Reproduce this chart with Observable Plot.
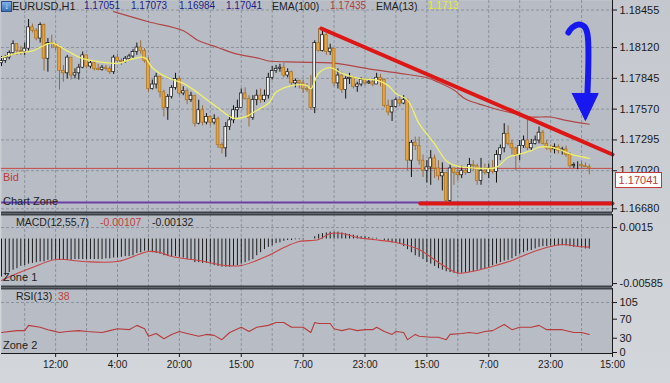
<!DOCTYPE html>
<html><head><meta charset="utf-8">
<script src="https://cdn.jsdelivr.net/npm/d3@7"></script>
<script src="https://cdn.jsdelivr.net/npm/@observablehq/plot@0.6"></script>
<style>
body{margin:0;background:#c9cdd2;}
#wrap{position:relative;width:670px;height:383px;overflow:hidden;background:linear-gradient(#c4c8ce,#d3d6da);font-family:"Liberation Sans",Arial,sans-serif;}
#wrap svg{position:absolute;left:0;}
.t{position:absolute;white-space:nowrap;font-size:10.5px;line-height:12px;color:#1e1e1e;}
</style></head><body><div id="wrap"></div><script>
// ---------- data ----------
const firstOpen = 1.1798;
const closes = [
1.1800,1.1803,1.1807,1.1815,1.1809,1.1808,1.1811,1.1830,1.1827,1.1820,
1.1832,1.1802,1.1816,1.1815,1.1812,1.1791,1.1789,1.1803,1.1787,1.1789,
1.1794,1.1805,1.1795,1.1798,1.1793,1.1792,1.1794,1.1793,1.1790,1.1803,
1.1800,1.1799,1.1802,1.1804,1.1808,1.1812,1.1809,1.1800,1.1775,1.1779,
1.1786,1.1772,1.1758,1.1768,1.1776,1.1784,1.1771,1.1773,1.1765,1.1769,
1.1744,1.1756,1.1745,1.1750,1.1745,1.1748,1.1725,1.1722,1.1741,1.1747,
1.1756,1.1758,1.1771,1.1766,1.1749,1.1765,1.1769,1.1765,1.1769,1.1785,
1.1791,1.1793,1.1794,1.1787,1.1790,1.1780,1.1782,1.1780,1.1775,1.1774,
1.1758,1.1816,1.1809,1.1823,1.1808,1.1811,1.1780,1.1787,1.1774,1.1784,
1.1785,1.1777,1.1779,1.1783,1.1780,1.1781,1.1779,1.1785,1.1783,1.1760,
1.1754,1.1759,1.1765,1.1762,1.1765,1.1711,1.1727,1.1724,1.1711,1.1702,
1.1705,1.1713,1.1704,1.1697,1.1700,1.1675,1.1704,1.1700,1.1698,1.1702,
1.1700,1.1707,1.1706,1.1693,1.1702,1.1700,1.1704,1.1701,1.1716,1.1722,
1.1735,1.1726,1.1722,1.1716,1.1724,1.1729,1.1722,1.1726,1.1729,1.1736,
1.1726,1.1722,1.1721,1.1723,1.1720,1.1721,1.1716,1.1706,1.1707,1.1707,
1.1706,1.17051,1.17041];
const highs = [
1.1804,1.1805,1.1809,1.1818,1.1815,1.1813,1.1816,1.1837,1.1833,1.1829,
1.1834,1.1833,1.1820,1.1823,1.1816,1.1814,1.1796,1.1805,1.1803,1.1793,
1.1797,1.1808,1.1804,1.1800,1.1799,1.1797,1.1796,1.1796,1.1795,1.1805,
1.1806,1.1802,1.1804,1.1806,1.1810,1.1816,1.1818,1.1811,1.1803,1.1783,
1.1789,1.1783,1.1774,1.1770,1.1778,1.1789,1.1786,1.1777,1.1775,1.1772,
1.1767,1.1765,1.1760,1.1753,1.1751,1.1752,1.1750,1.1727,1.1745,1.1751,
1.1760,1.1765,1.1775,1.1776,1.1769,1.1769,1.1774,1.1775,1.1774,1.1789,
1.1795,1.1796,1.1797,1.1798,1.1793,1.1791,1.1784,1.1783,1.1783,1.1780,
1.1787,1.1818,1.1829,1.1827,1.1825,1.1815,1.1809,1.1793,1.1790,1.1786,
1.1789,1.1786,1.1781,1.1785,1.1784,1.1783,1.1783,1.1789,1.1788,1.1784,
1.1765,1.1765,1.1767,1.1768,1.1769,1.1766,1.1729,1.1732,1.1732,1.1716,
1.1711,1.1720,1.1716,1.1711,1.1709,1.1700,1.1707,1.1704,1.1707,1.1706,
1.1704,1.1713,1.1711,1.1708,1.1713,1.1708,1.1708,1.1711,1.1720,1.1725,
1.1744,1.1742,1.1729,1.1723,1.1729,1.1733,1.1747,1.1730,1.1733,1.1741,
1.1738,1.1729,1.1725,1.1726,1.1725,1.1723,1.1724,1.1718,1.1709,1.1710,
1.1710,1.1709,1.17073];
const lows = [
1.1795,1.1798,1.1801,1.1805,1.1805,1.1805,1.1805,1.1809,1.1825,1.1818,
1.1816,1.1791,1.1790,1.1811,1.1809,1.1774,1.1781,1.1784,1.1783,1.1784,
1.1783,1.1793,1.1793,1.1793,1.1791,1.1791,1.1791,1.1791,1.1788,1.1788,
1.1798,1.1796,1.1798,1.1800,1.1802,1.1805,1.1806,1.1798,1.1772,1.1774,
1.1775,1.1767,1.1750,1.1747,1.1766,1.1774,1.1769,1.1769,1.1761,1.1763,
1.1741,1.1743,1.1742,1.1743,1.1742,1.1743,1.1722,1.1717,1.1714,1.1738,
1.1744,1.1749,1.1758,1.1765,1.1741,1.1747,1.1760,1.1762,1.1763,1.1766,
1.1783,1.1789,1.1790,1.1785,1.1785,1.1778,1.1776,1.1775,1.1771,1.1772,
1.1756,1.1753,1.1808,1.1808,1.1805,1.1805,1.1777,1.1775,1.1771,1.1766,
1.1779,1.1775,1.1772,1.1777,1.1778,1.1779,1.1777,1.1779,1.1777,1.1758,
1.1751,1.1746,1.1758,1.1759,1.1761,1.1702,1.1696,1.1720,1.1707,1.1696,
1.1691,1.1689,1.1695,1.1693,1.1684,1.1673,1.1673,1.1689,1.1693,1.1695,
1.1698,1.1700,1.1702,1.1689,1.1689,1.1698,1.1695,1.1699,1.1691,1.1711,
1.1718,1.1724,1.1716,1.1702,1.1711,1.1722,1.1720,1.1720,1.1725,1.1726,
1.1725,1.1720,1.1718,1.1717,1.1717,1.1716,1.1714,1.1704,1.1704,1.1703,
1.1703,1.1705,1.16984];

const ema13Idx = [0,4,8,13,17,21,26,30,34,37,39,43,47,51,56,60,63,66,69,71,75,79,80,82,85,88,93,97,100,102,105,108,112,115,117,120,125,128,131,133,137,139,142,145,147,152];
const ema13Val = [1.1803,1.1807,1.1809,1.1816,1.1809,1.1802,1.1799,1.1798,1.1802,1.1803,1.1794,1.1785,1.1780,1.1771,1.1758,1.1749,1.1750,1.1756,1.1762,1.1772,1.1778,1.1778,1.1775,1.1789,1.1794,1.1789,1.1784,1.1783,1.1778,1.1771,1.1765,1.1744,1.1726,1.1711,1.1707,1.1705,1.1704,1.1705,1.1714,1.1716,1.1720,1.1723,1.1723,1.1720,1.1717,1.1713];
const ema100Idx = [29,38,47,51,56,60,67,69,77,86,95,103,110,113,117,120,125,129,133,137,142,146,152];
const ema100Val = [1.1844,1.1835,1.1827,1.1818,1.1812,1.1807,1.1802,1.1800,1.1799,1.1798,1.1793,1.1789,1.1785,1.1781,1.1774,1.1766,1.1760,1.1756,1.1753,1.1750,1.1750,1.1747,1.17435];

const macdHist = [
-0.0050,-0.0048,-0.0044,-0.0041,-0.0039,-0.0036,-0.0035,-0.0033,-0.0032,-0.0031,
-0.0030,-0.0030,-0.0028,-0.0028,-0.0028,-0.0028,-0.0028,-0.0028,-0.0028,-0.0027,
-0.0027,-0.0027,-0.0027,-0.0027,-0.0027,-0.0027,-0.0027,-0.0026,-0.0026,-0.0025,
-0.0025,-0.0024,-0.0023,-0.0023,-0.0022,-0.0019,-0.0018,-0.0016,-0.0016,-0.0018,
-0.0019,-0.0020,-0.0022,-0.0023,-0.0023,-0.0023,-0.0024,-0.0025,-0.0027,-0.0028,
-0.0031,-0.0031,-0.0032,-0.0032,-0.0033,-0.0035,-0.0036,-0.0037,-0.0037,-0.0037,
-0.0036,-0.0035,-0.0033,-0.0031,-0.0029,-0.0027,-0.0022,-0.0018,-0.0014,-0.0011,
-0.0009,-0.0006,-0.0005,-0.0003,-0.0002,-0.0002,-0.0001,-0.0001,-0.0001,0.0000,
0.0000,0.0003,0.0006,0.0007,0.0008,0.0009,0.0009,0.0009,0.0008,0.0007,
0.0006,0.0005,0.0004,0.0003,0.0003,0.0002,0.0001,0.0001,0.0000,-0.0002,
-0.0003,-0.0005,-0.0006,-0.0007,-0.0010,-0.0014,-0.0018,-0.0022,-0.0024,-0.0027,
-0.0031,-0.0033,-0.0036,-0.0039,-0.0041,-0.0043,-0.0044,-0.0045,-0.0046,-0.0045,
-0.0044,-0.0044,-0.0043,-0.0041,-0.0040,-0.0039,-0.0037,-0.0035,-0.0033,-0.0031,
-0.0029,-0.0028,-0.0026,-0.0023,-0.0020,-0.0018,-0.0016,-0.0015,-0.0013,-0.0011,
-0.0010,-0.0010,-0.0009,-0.0009,-0.0009,-0.0009,-0.0009,-0.0010,-0.0011,-0.0011,
-0.0012,-0.0013,-0.00132];
const sigIdx = [0,4,8,14,21,30,38,41,44,51,58,62,69,73,77,82,85,88,92,96,102,108,113,118,121,126,132,137,142,145,149,152];
const sigVal = [-0.00545,-0.00453,-0.00374,-0.00269,-0.00295,-0.00295,-0.00164,-0.00177,-0.00230,-0.00282,-0.00348,-0.00348,-0.00217,-0.00112,-0.00033,-0.00007,0.00072,0.00072,0.00020,-0.00007,-0.00046,-0.00138,-0.00308,-0.00446,-0.00433,-0.00374,-0.00282,-0.00177,-0.00098,-0.00072,-0.00098,-0.00107];

const rsiIdx = [0,4,6,7,10,12,13,15,17,20,22,26,28,30,33,35,37,38,40,42,44,46,48,51,53,55,57,59,62,64,66,69,71,73,75,78,80,81,82,85,86,87,88,90,92,94,96,97,99,101,102,104,105,107,108,111,113,115,116,119,121,123,125,127,130,132,134,137,139,141,145,148,150,152];
const rsiVal = [42,46,46,57,53,48,46,42,44,46,44,42,46,50,48,57,50,34,40,29,38,44,40,34,38,36,27,42,53,44,53,57,63,63,53,53,42,63,61,61,50,48,46,50,46,48,48,53,44,38,44,42,27,38,34,32,32,27,38,40,42,40,44,46,59,48,53,53,57,48,48,42,42,38];

const priceTicks = [1.18455,1.18120,1.17845,1.17570,1.17295,1.17020,1.16680];
const macdTicks = [0.0015,-0.00585];
const macdTickLabels = ["0.0015","-0.00585"];
const rsiTicks = [105,70,30,0];
const timeTickIdx = [14,30,46,62,78,94,110,126,142,158];
const timeLabels = ["12:00","4:00","20:00","15:00","7:00","23:00","15:00","7:00","23:00","15:00"];
const gridIdx = [6,14,22,30,38,46,54,62,70,78,86,94,102,110,118,126,134,142,150];

const bidPrice = 1.17041;
const zonePrice = 1.16736;
const resX = [82.7,158], resY = [1.1829,1.17165];
const supX = [108.3,158], supY = [1.16727,1.16727];
const arrowX = [146.6,147.6,149.2,150.7,151.5,151.5];
const arrowY = [1.18254,1.18299,1.18326,1.18308,1.18245,1.17692];
const headX = [147.6,154.3,151.0,147.6];
const headY = [1.17710,1.17710,1.17469,1.17710];

// ---------- drawing ----------
const W = 670, ML = 1, MR = 58;
const BG = "#b8bdc5", GRID = "#8b929c", AX = "#1a1a1a";
const xDom = [0,158];
const pts = (xs, ys) => xs.map((x,k)=>({x, y: ys[k]}));
const candles = closes.map((c,i)=>{const o = i===0 ? firstOpen : closes[i-1];
  return {i, o, c, h: Math.max(highs[i],o,c), l: Math.min(lows[i],o,c), up: c >= o};});
const ups = candles.filter(d=>d.up), downs = candles.filter(d=>!d.up);
const gridOpts = {stroke: GRID, strokeOpacity: 1, strokeDasharray: "3,2"};
const wrap = document.getElementById("wrap");
const st = {background: "transparent", fontSize: "11px", fontFamily: "Liberation Sans, Arial, sans-serif", overflow: "visible"};

const main = Plot.plot({
  width: W, height: 212, marginLeft: ML, marginRight: MR, marginTop: 0, marginBottom: 0,
  x: {domain: xDom, axis: null},
  y: {domain: [1.1854 - 212/11200, 1.1854], axis: null},
  style: st,
  marks: [
    Plot.frame({fill: BG, stroke: null}),
    Plot.gridY(priceTicks, gridOpts),
    Plot.gridX(gridIdx, gridOpts),
    Plot.ruleY([zonePrice], {stroke: "#6b3fa6", strokeWidth: 2}),
    Plot.ruleY([bidPrice], {stroke: "#c44a4a", strokeWidth: 1}),
    Plot.line(pts(ema100Idx, ema100Val), {x: "x", y: "y", stroke: "#b04646", strokeWidth: 1.2, curve: "catmull-rom"}),
    Plot.ruleX(downs, {x: "i", y1: "l", y2: "h", stroke: "#9a6b35", strokeWidth: 1}),
    Plot.ruleX(ups, {x: "i", y1: "l", y2: "h", stroke: "#111", strokeWidth: 1}),
    Plot.rect(downs, {x1: d=>d.i-0.36, x2: d=>d.i+0.36, y1: "o", y2: "c", fill: "#e7a23c", stroke: "#a8711f", strokeWidth: 0.7}),
    Plot.rect(ups, {x1: d=>d.i-0.36, x2: d=>d.i+0.36, y1: "o", y2: "c", fill: "#f7f7f7", stroke: "#111", strokeWidth: 0.7}),
    Plot.line(pts(ema13Idx, ema13Val), {x: "x", y: "y", stroke: "#f1f06a", strokeWidth: 1.3, curve: "catmull-rom"}),
    Plot.line(pts(supX, supY), {x: "x", y: "y", stroke: "#dd1616", strokeWidth: 4}),
    Plot.line(pts(resX, resY), {x: "x", y: "y", stroke: "#dd1616", strokeWidth: 4}),
    Plot.line(pts(arrowX, arrowY), {x: "x", y: "y", stroke: "#1717f0", strokeWidth: 6, curve: "catmull-rom"}),
    Plot.line(pts(headX, headY), {x: "x", y: "y", stroke: "#1717f0", fill: "#1717f0", strokeWidth: 1}),
    Plot.ruleX([xDom[1]], {stroke: AX}),
    Plot.ruleY([1.1854 - 212/11200], {stroke: "#3c4148", strokeWidth: 2}),
    Plot.axisY(priceTicks, {anchor: "right", label: null, tickSize: 4, tickPadding: 3, tickFormat: d3.format(".5f"), fill: AX, stroke: AX})
  ]
});
main.style.top = "0px";

const macd = Plot.plot({
  width: W, height: 72, marginLeft: ML, marginRight: MR, marginTop: 0, marginBottom: 0,
  x: {domain: xDom, axis: null},
  y: {domain: [-0.006234, 0.003216], axis: null},
  style: st,
  marks: [
    Plot.frame({fill: BG, stroke: null}),
    Plot.gridY([0.0015], gridOpts),
    Plot.gridX(gridIdx, gridOpts),
    Plot.ruleX(macdHist.map((v,i)=>({i, v})), {x: "i", y1: 0, y2: "v", stroke: "#1c1c1c", strokeWidth: 1}),
    Plot.line(pts(sigIdx, sigVal), {x: "x", y: "y", stroke: "#c84444", strokeWidth: 1.1, curve: "catmull-rom"}),
    Plot.ruleX([xDom[1]], {stroke: AX}),
    Plot.ruleY([0.003216], {stroke: "#3c4148", strokeWidth: 2}),
    Plot.ruleY([-0.006234], {stroke: "#3c4148", strokeWidth: 2}),
    Plot.axisY(macdTicks, {anchor: "right", label: null, tickSize: 4, tickPadding: 3, tickFormat: (d,i)=>macdTickLabels[i], fill: AX, stroke: AX})
  ]
});
macd.style.top = "214px";

const rsi = Plot.plot({
  width: W, height: 95, marginLeft: ML, marginRight: MR, marginTop: 0, marginBottom: 30,
  x: {domain: xDom, axis: null},
  y: {domain: [-2.1, 134.5], axis: null},
  style: st,
  marks: [
    Plot.frame({fill: BG, stroke: null}),
    Plot.gridY([105], gridOpts),
    Plot.gridX(gridIdx, gridOpts),
    Plot.line(pts(rsiIdx, rsiVal), {x: "x", y: "y", stroke: "#b83a3a", strokeWidth: 1.1}),
    Plot.ruleX([xDom[1]], {stroke: AX}),
    Plot.ruleY([134.5], {stroke: "#3c4148", strokeWidth: 2}),
    Plot.ruleY([-2.1], {stroke: AX, strokeWidth: 1}),
    Plot.axisY(rsiTicks, {anchor: "right", label: null, tickSize: 4, tickPadding: 3, fill: AX, stroke: AX}),
    Plot.axisX(timeTickIdx, {anchor: "bottom", label: null, tickSize: 4, tickPadding: 3, fontSize: 10, tickFormat: (d,i)=>timeLabels[i], fill: AX, stroke: AX})
  ]
});
rsi.style.top = "288px";

wrap.append(main, macd, rsi);

// ---------- text labels ----------
const labels = [
  ["EURUSD,H1", 12, 0, "#1e1e1e", 11],
  ["1.17051", 84, 0, "#1d1d86", 10],
  ["1.17073", 131, 0, "#1d1d86", 10],
  ["1.16984", 179, 0, "#1d1d86", 10],
  ["1.17041", 226, 0, "#1d1d86", 10],
  ["EMA(100)", 272, 0, "#1e1e1e", 10.5],
  ["1.17435", 330, 0, "#b04040", 10],
  ["EMA(13)", 376, 0, "#1e1e1e", 10.5],
  ["1.1713", 428, 0, "#e8e838", 10],
  ["Bid", 3, 171, "#c03a3a", 11],
  ["Chart Zone", 3, 195, "#1e1e1e", 11],
  ["MACD(12,55,7)", 16, 216, "#1e1e1e", 10.5],
  ["-0.00107", 100, 216, "#c04040", 10.5],
  ["-0.00132", 152, 216, "#1e1e1e", 10.5],
  ["Zone 1", 3, 271, "#1e1e1e", 11],
  ["RSI(13)", 16, 290, "#1e1e1e", 10.5],
  ["38", 58, 290, "#c04040", 10.5],
  ["Zone 2", 3, 339, "#1e1e1e", 11]
];
for (const [t, x, y, c, s] of labels) {
  const d = document.createElement("div");
  d.className = "t"; d.textContent = t;
  d.style.left = x + "px"; d.style.top = y + "px"; d.style.color = c; d.style.fontSize = s + "px";
  wrap.append(d);
}
const icon = document.createElement("div");
icon.style.cssText = "position:absolute;left:1px;top:1px;width:9px;height:9px;background:linear-gradient(#7fb0e8,#3a6fb8);border:1px solid #2a4f8a;color:#fff;font-size:8px;line-height:9px;text-align:center;";
icon.textContent = "↓";
wrap.append(icon);
const box = document.createElement("div");
box.style.cssText = "position:absolute;left:615px;top:172px;width:45px;height:14px;background:#fff;border:1px solid #c03a3a;color:#c03a3a;font-size:11px;line-height:14px;text-align:center;";
box.textContent = bidPrice.toFixed(5);
wrap.append(box);
</script></body></html>
